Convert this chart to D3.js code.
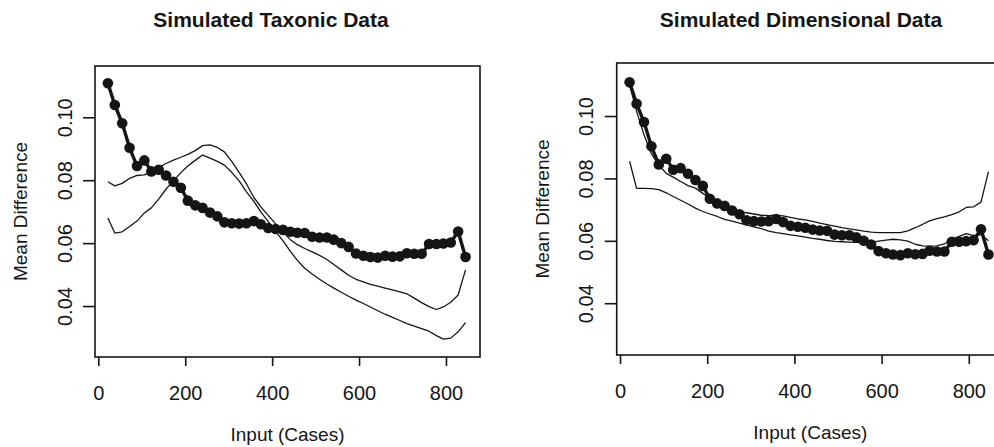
<!DOCTYPE html>
<html><head><meta charset="utf-8">
<script src="https://cdn.jsdelivr.net/npm/d3@7"></script>
<style>html,body{margin:0;padding:0;background:#fff;overflow:hidden}</style>
</head><body><svg id="chart" width="994" height="447"></svg>
<script>
// ---- data ----
const inputCases = [22, 38, 55, 72, 89, 106, 122, 139, 156, 173, 190, 206, 223, 240, 257, 274, 290, 307, 324, 341,
  358, 374, 391, 408, 425, 442, 458, 475, 492, 509, 526, 542, 559, 576, 593, 610, 626, 643, 660, 677,
  694, 710, 727, 744, 761, 778, 794, 811, 828, 845];
const observed = [0.1108, 0.1039, 0.0981, 0.0903, 0.0845, 0.0863, 0.0828, 0.0833, 0.0815, 0.0795,
  0.0776, 0.0735, 0.0720, 0.0712, 0.0697, 0.0685, 0.0666, 0.0663, 0.0662, 0.0663,
  0.0670, 0.0660, 0.0648, 0.0645, 0.0642, 0.0636, 0.0633, 0.0632, 0.0620, 0.0618,
  0.0618, 0.0611, 0.0600, 0.0588, 0.0567, 0.0560, 0.0556, 0.0554, 0.0560, 0.0557,
  0.0558, 0.0568, 0.0566, 0.0566, 0.0597, 0.0597, 0.0599, 0.0602, 0.0637, 0.0556];
const taxonicUpper = [0.0795, 0.0782, 0.0790, 0.0806, 0.0815, 0.0817, 0.0827, 0.0841, 0.0853, 0.0864,
  0.0873, 0.0882, 0.0894, 0.0910, 0.0912, 0.0904, 0.0890, 0.0860, 0.0825, 0.0788,
  0.0745, 0.0715, 0.0688, 0.0661, 0.0635, 0.0611, 0.0595, 0.0583, 0.0572, 0.0561,
  0.0548, 0.0532, 0.0515, 0.0498, 0.0485, 0.0477, 0.0469, 0.0463, 0.0457, 0.0451,
  0.0445, 0.0439, 0.0425, 0.0411, 0.0398, 0.0389, 0.0397, 0.0412, 0.0435, 0.0515];
const taxonicLower = [0.0680, 0.0632, 0.0636, 0.0653, 0.0670, 0.0696, 0.0712, 0.0740, 0.0772, 0.0798,
  0.0824, 0.0845, 0.0863, 0.0880, 0.0870, 0.0860, 0.0848, 0.0825, 0.0798, 0.0763,
  0.0733, 0.0699, 0.0668, 0.0637, 0.0607, 0.0574, 0.0545, 0.0520, 0.0502, 0.0485,
  0.0470, 0.0457, 0.0444, 0.0431, 0.0419, 0.0408, 0.0397, 0.0385, 0.0374, 0.0364,
  0.0354, 0.0344, 0.0336, 0.0328, 0.0320, 0.0306, 0.0295, 0.0298, 0.0318, 0.0347];
const dimensionalUpper = [0.1100, 0.1015, 0.0940, 0.0879, 0.0843, 0.0816, 0.0804, 0.0790, 0.0777, 0.0769,
  0.0752, 0.0736, 0.0721, 0.0707, 0.0696, 0.0693, 0.0690, 0.0686, 0.0682, 0.0681,
  0.0682, 0.0680, 0.0675, 0.0670, 0.0667, 0.0662, 0.0657, 0.0652, 0.0647, 0.0642,
  0.0638, 0.0635, 0.0631, 0.0628, 0.0626, 0.0626, 0.0626, 0.0626, 0.0632, 0.0642,
  0.0653, 0.0664, 0.0671, 0.0677, 0.0684, 0.0693, 0.0707, 0.0709, 0.0724, 0.0822];
const dimensionalLower = [0.0855, 0.0768, 0.0768, 0.0767, 0.0764, 0.0754, 0.0742, 0.0730, 0.0718, 0.0705,
  0.0694, 0.0686, 0.0678, 0.0669, 0.0663, 0.0657, 0.0651, 0.0645, 0.0639, 0.0631,
  0.0626, 0.0623, 0.0619, 0.0616, 0.0612, 0.0608, 0.0605, 0.0601, 0.0598, 0.0597,
  0.0596, 0.0595, 0.0594, 0.0595, 0.0599, 0.0602, 0.0605, 0.0603, 0.0599, 0.0589,
  0.0584, 0.0583, 0.0584, 0.0590, 0.0605, 0.0614, 0.0623, 0.0617, 0.0620, 0.0600];
const xTicks = [0, 200, 400, 600, 800];
const yTicks = [0.04, 0.06, 0.08, 0.10];
const titles = ["Simulated Taxonic Data", "Simulated Dimensional Data"];
const xLabel = "Input (Cases)";
const yLabel = "Mean Difference";

// ---- drawing ----
const FONT = "'Liberation Sans', Arial, Helvetica, sans-serif";
const INK = "#151515";
const svg = d3.select("#chart");
svg.append("rect").attr("width", 994).attr("height", 447).attr("fill", "#fff");

const panels = [
  { title: titles[0], sims: [taxonicUpper, taxonicLower], titleX: 271,
    left: 95, right: 480, top: 66, bottom: 357, xDomain: [-7.6, 878.3], yDomain: [0.0238, 0.1163] },
  { title: titles[1], sims: [dimensionalUpper, dimensionalLower], titleX: 801,
    left: 616.7, right: 1004, top: 63, bottom: 355, xDomain: [-7.6, 880.7], yDomain: [0.0234, 0.117] }
];

panels.forEach(p => {
  const x = d3.scaleLinear().domain(p.xDomain).range([p.left, p.right]);
  const y = d3.scaleLinear().domain(p.yDomain).range([p.bottom, p.top]);
  const g = svg.append("g");
  const line = d3.line().x((d, i) => x(inputCases[i])).y(d => y(d));

  // simulated comparison curves
  p.sims.forEach(s => {
    g.append("path").datum(s).attr("d", line)
      .attr("fill", "none").attr("stroke", INK).attr("stroke-width", 1.3)
      .attr("stroke-linejoin", "round");
  });
  // observed curve with points
  g.append("path").datum(observed).attr("d", line)
    .attr("fill", "none").attr("stroke", INK).attr("stroke-width", 3.4)
    .attr("stroke-linejoin", "round");
  g.selectAll("circle.obs").data(observed).join("circle").attr("class", "obs")
    .attr("cx", (d, i) => x(inputCases[i])).attr("cy", d => y(d)).attr("r", 5.3)
    .attr("fill", INK);

  // box
  g.append("rect").attr("x", p.left).attr("y", p.top)
    .attr("width", p.right - p.left).attr("height", p.bottom - p.top)
    .attr("fill", "none").attr("stroke", INK).attr("stroke-width", 1.6);

  // x axis
  const xa = g.append("g").attr("transform", `translate(0,${p.bottom})`)
    .call(d3.axisBottom(x).tickValues(xTicks).tickSize(9).tickFormat(d3.format("d")));
  xa.select(".domain").remove();
  xa.selectAll("line").attr("stroke", INK).attr("stroke-width", 1.6);
  xa.selectAll("text").attr("y", 43).attr("dy", 0)
    .attr("font-family", FONT).attr("font-size", 20).attr("fill", INK);

  // y axis
  const ya = g.append("g").attr("transform", `translate(${p.left},0)`)
    .call(d3.axisLeft(y).tickValues(yTicks).tickSize(12).tickFormat(d3.format(".2f")));
  ya.select(".domain").remove();
  ya.selectAll("line").attr("stroke", INK).attr("stroke-width", 1.6);
  ya.selectAll("text").attr("x", 0).attr("dy", 0).attr("text-anchor", "middle")
    .attr("transform", "translate(-23.4,0) rotate(-90)")
    .attr("font-family", FONT).attr("font-size", 20).attr("fill", INK);

  // titles and labels
  const cx = (p.left + p.right) / 2, cy = (p.top + p.bottom) / 2;
  svg.append("text").attr("x", p.titleX).attr("y", 27).attr("text-anchor", "middle")
    .attr("font-family", FONT).attr("font-weight", "bold").attr("font-size", 21)
    .attr("fill", INK).text(p.title);
  svg.append("text").attr("x", cx).attr("y", p.bottom + 84).attr("text-anchor", "middle")
    .attr("font-family", FONT).attr("font-size", 19).attr("fill", INK).text(xLabel);
  svg.append("text").attr("transform", `translate(${p.left - 68},${cy}) rotate(-90)`)
    .attr("text-anchor", "middle")
    .attr("font-family", FONT).attr("font-size", 19).attr("fill", INK).text(yLabel);
});
</script>
</body></html>
